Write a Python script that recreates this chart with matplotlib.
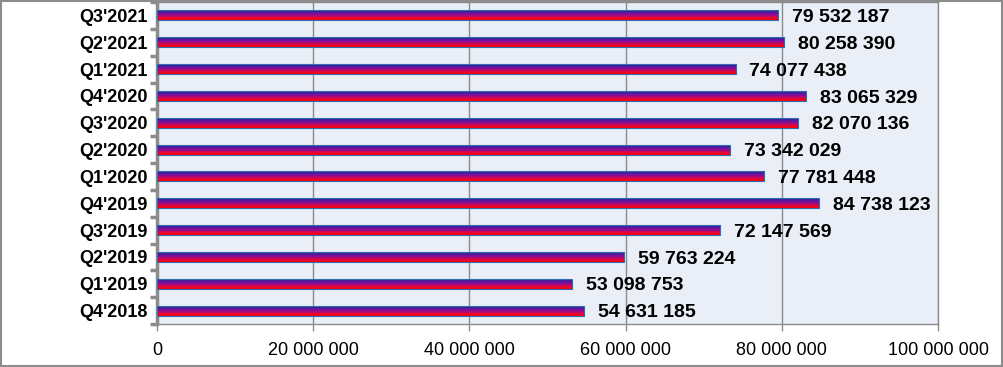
import matplotlib
matplotlib.use("Agg")
import matplotlib.pyplot as plt
import numpy as np
from matplotlib.colors import LinearSegmentedColormap
from matplotlib.patches import Rectangle
from matplotlib.ticker import FuncFormatter, FixedLocator

plt.rcParams['font.family'] = ['Liberation Sans', 'DejaVu Sans']

# chronological order, bottom to top
quarters = ["Q4'2018", "Q1'2019", "Q2'2019", "Q3'2019", "Q4'2019", "Q1'2020",
            "Q2'2020", "Q3'2020", "Q4'2020", "Q1'2021", "Q2'2021", "Q3'2021"]
values = [54631185, 53098753, 59763224, 72147569, 84738123, 77781448,
          73342029, 82070136, 83065329, 74077438, 80258390, 79532187]
x_ticks = [0, 20000000, 40000000, 60000000, 80000000, 100000000]


def spaced(v, pos=None):
    return "{:,}".format(int(v)).replace(",", " ")


fig = plt.figure(figsize=(10.04, 3.67), dpi=100)
fig.patches.append(Rectangle((0.001, 0.002), 0.997, 0.995, transform=fig.transFigure,
                             fill=False, edgecolor='#8c8c8c', linewidth=1.5))
ax = fig.add_axes([157 / 1004, 1 - 324 / 367, (938 - 157) / 1004, 322 / 367])
ax.set_facecolor('#e9eef7')

# red at bottom, blue on top
grad = LinearSegmentedColormap.from_list('bar', ['#ff0000', '#e0083a', '#9a0a90', '#5a1aa0', '#202090'])
strip = np.linspace(0, 1, 64).reshape(-1, 1)
bh = 0.37
for i, v in enumerate(values):
    ax.imshow(strip, cmap=grad, aspect='auto', interpolation='bilinear',
              extent=[0, v, i + bh / 2, i - bh / 2], origin='upper', zorder=3)
    ax.add_patch(Rectangle((0, i - bh / 2), v, bh, fill=False,
                           edgecolor='#2e6db0', linewidth=0.8, zorder=4))
    ax.annotate(spaced(v), xy=(v, i), xytext=(10, -1.5), textcoords='offset points',
                ha='left', va='center', fontsize=14, fontweight='bold', color='black')

ax.set_xlim(0, 100000000)
ax.set_ylim(-0.5, len(values) - 0.5)
ax.xaxis.set_major_locator(FixedLocator(x_ticks))
ax.xaxis.set_major_formatter(FuncFormatter(spaced))
ax.grid(axis='x', color='#8c8c8c', linewidth=1, zorder=1)
ax.set_axisbelow(True)

ax.set_yticks(range(len(quarters)))
ax.set_yticklabels(quarters, fontsize=13, fontweight='bold')
ax.set_yticks(np.arange(-0.5, len(quarters), 1), minor=True)
ax.tick_params(axis='y', which='major', length=0, pad=7)
ax.tick_params(axis='y', which='minor', length=5, width=2.5, color='#8c8c8c')
ax.tick_params(axis='x', length=5, width=1, color='#8c8c8c', labelsize=13, pad=8)

for s in ['top', 'right', 'bottom']:
    ax.spines[s].set_color('#8c8c8c')
    ax.spines[s].set_linewidth(1)
ax.spines['left'].set_color('#8c8c8c')
ax.spines['left'].set_linewidth(2.5)

fig.savefig('out.png', dpi=100)
